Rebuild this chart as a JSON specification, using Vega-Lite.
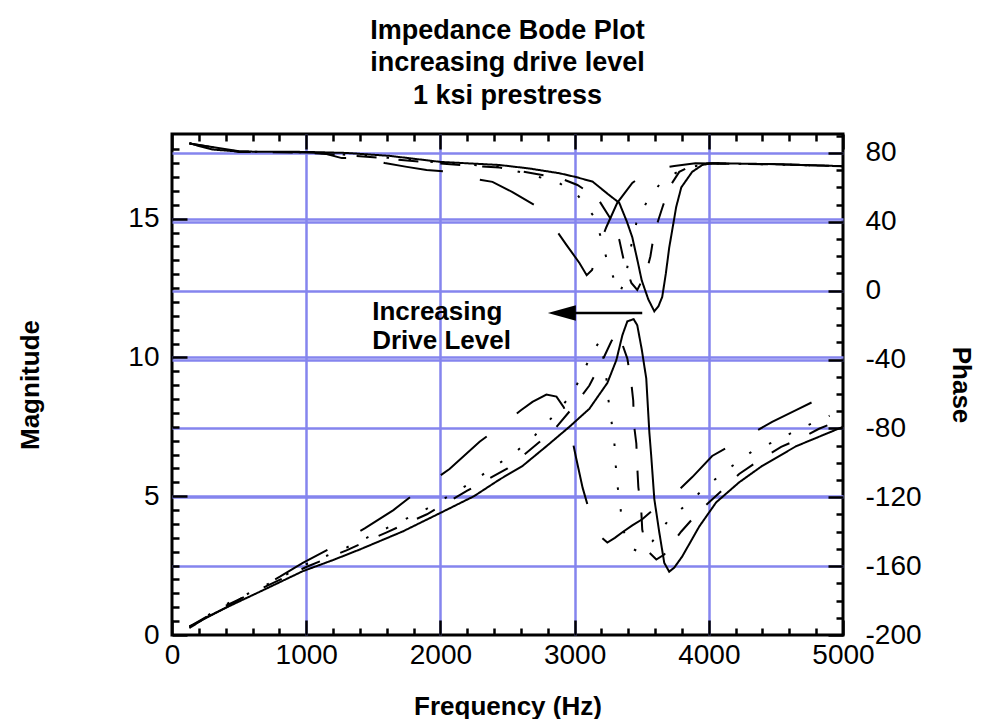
{
  "$schema": "https://vega.github.io/schema/vega-lite/v6.json",
  "width": 671,
  "height": 501,
  "autosize": {"type": "none"},
  "padding": {"left": 172, "top": 134, "right": 139, "bottom": 84},
  "background": "white",
  "title": {
    "text": ["Impedance Bode Plot", "increasing drive level", "1 ksi prestress"],
    "font": "Liberation Sans",
    "fontSize": 27,
    "fontWeight": "bold",
    "color": "black",
    "lineHeight": 32.5,
    "anchor": "middle",
    "offset": 23
  },
  "config": {
    "view": {"stroke": "black", "strokeWidth": 3},
    "font": "Liberation Sans",
    "axis": {
      "labelFont": "Liberation Sans",
      "labelFontSize": 28,
      "labelColor": "black",
      "labelFlush": false,
      "labelOverlap": false,
      "labelBound": false,
      "labelExpr": "'' + datum.value",
      "tickColor": "black",
      "tickWidth": 2.5,
      "domain": false,
      "titleFont": "Liberation Sans",
      "titleFontSize": 26,
      "titleFontWeight": "bold",
      "titleColor": "black",
      "gridColor": "#8585ee",
      "gridWidth": 2.5,
      "gridOpacity": 1
    }
  },
  "datasets": {
    "mag": [
      {"d": "1", "f": 130, "v": 0.25}, {"d": "1", "f": 250, "v": 0.62}, {"d": "1", "f": 409, "v": 1.0}, {"d": "1", "f": 655, "v": 1.56}, {"d": "1", "f": 975, "v": 2.3}, {"d": "1", "f": 1200, "v": 2.7}, {"d": "1", "f": 1399, "v": 3.08}, {"d": "1", "f": 1719, "v": 3.73}, {"d": "1", "f": 2009, "v": 4.42}, {"d": "1", "f": 2250, "v": 5.0}, {"d": "1", "f": 2440, "v": 5.6}, {"d": "1", "f": 2612, "v": 6.09}, {"d": "1", "f": 2790, "v": 6.8}, {"d": "1", "f": 2961, "v": 7.5}, {"d": "1", "f": 3110, "v": 8.15}, {"d": "1", "f": 3244, "v": 9.08}, {"d": "1", "f": 3311, "v": 9.9}, {"d": "1", "f": 3356, "v": 10.8}, {"d": "1", "f": 3393, "v": 11.3}, {"d": "1", "f": 3440, "v": 11.38}, {"d": "1", "f": 3467, "v": 11.16}, {"d": "1", "f": 3500, "v": 10.3}, {"d": "1", "f": 3534, "v": 9.24}, {"d": "1", "f": 3557, "v": 7.3}, {"d": "1", "f": 3571, "v": 6.45}, {"d": "1", "f": 3594, "v": 4.9}, {"d": "1", "f": 3631, "v": 3.7}, {"d": "1", "f": 3668, "v": 2.6}, {"d": "1", "f": 3705, "v": 2.28}, {"d": "1", "f": 3743, "v": 2.43}, {"d": "1", "f": 3802, "v": 2.83}, {"d": "1", "f": 3929, "v": 3.91}, {"d": "1", "f": 4055, "v": 4.78}, {"d": "1", "f": 4226, "v": 5.5}, {"d": "1", "f": 4397, "v": 6.09}, {"d": "1", "f": 4650, "v": 6.8}, {"d": "1", "f": 5000, "v": 7.5},
      {"d": "2", "f": 130, "v": 0.3}, {"d": "2", "f": 400, "v": 1.05}, {"d": "2", "f": 700, "v": 1.75}, {"d": "2", "f": 1000, "v": 2.45}, {"d": "2", "f": 1300, "v": 3.05}, {"d": "2", "f": 1600, "v": 3.7}, {"d": "2", "f": 1900, "v": 4.35}, {"d": "2", "f": 2200, "v": 5.2}, {"d": "2", "f": 2500, "v": 6.0}, {"d": "2", "f": 2740, "v": 6.96}, {"d": "2", "f": 2865, "v": 7.5}, {"d": "2", "f": 2998, "v": 8.26}, {"d": "2", "f": 3110, "v": 8.99}, {"d": "2", "f": 3207, "v": 9.89}, {"d": "2", "f": 3274, "v": 10.58}, {"d": "2", "f": 3311, "v": 10.87}, {"d": "2", "f": 3348, "v": 10.58}, {"d": "2", "f": 3393, "v": 9.96}, {"d": "2", "f": 3423, "v": 9.06}, {"d": "2", "f": 3437, "v": 8.44}, {"d": "2", "f": 3442, "v": 7.6}, {"d": "2", "f": 3460, "v": 6.9}, {"d": "2", "f": 3467, "v": 6.05}, {"d": "2", "f": 3475, "v": 5.33}, {"d": "2", "f": 3497, "v": 4.46}, {"d": "2", "f": 3504, "v": 3.8}, {"d": "2", "f": 3530, "v": 3.2}, {"d": "2", "f": 3557, "v": 2.97}, {"d": "2", "f": 3609, "v": 2.72}, {"d": "2", "f": 3668, "v": 2.9}, {"d": "2", "f": 3720, "v": 3.25}, {"d": "2", "f": 3795, "v": 3.73}, {"d": "2", "f": 3929, "v": 4.46}, {"d": "2", "f": 4092, "v": 5.18}, {"d": "2", "f": 4226, "v": 5.8}, {"d": "2", "f": 4390, "v": 6.34}, {"d": "2", "f": 4539, "v": 6.78}, {"d": "2", "f": 4710, "v": 7.14}, {"d": "2", "f": 4821, "v": 7.43}, {"d": "2", "f": 4933, "v": 7.65},
      {"d": "3", "f": 130, "v": 0.3}, {"d": "3", "f": 400, "v": 1.1}, {"d": "3", "f": 700, "v": 1.8}, {"d": "3", "f": 1000, "v": 2.55}, {"d": "3", "f": 1300, "v": 3.15}, {"d": "3", "f": 1600, "v": 3.85}, {"d": "3", "f": 1900, "v": 4.55}, {"d": "3", "f": 2200, "v": 5.4}, {"d": "3", "f": 2552, "v": 6.56}, {"d": "3", "f": 2700, "v": 7.17}, {"d": "3", "f": 2850, "v": 7.93}, {"d": "3", "f": 2984, "v": 8.7}, {"d": "3", "f": 3065, "v": 9.49}, {"d": "3", "f": 3140, "v": 10.25}, {"d": "3", "f": 3190, "v": 10.6}, {"d": "3", "f": 3230, "v": 9.6}, {"d": "3", "f": 3251, "v": 8.51}, {"d": "3", "f": 3274, "v": 7.72}, {"d": "3", "f": 3296, "v": 6.96}, {"d": "3", "f": 3305, "v": 6.2}, {"d": "3", "f": 3318, "v": 5.43}, {"d": "3", "f": 3341, "v": 4.64}, {"d": "3", "f": 3356, "v": 3.88}, {"d": "3", "f": 3390, "v": 3.4}, {"d": "3", "f": 3423, "v": 3.12}, {"d": "3", "f": 3480, "v": 3.0}, {"d": "3", "f": 3579, "v": 3.37}, {"d": "3", "f": 3705, "v": 4.17}, {"d": "3", "f": 3862, "v": 4.82}, {"d": "3", "f": 4018, "v": 5.5}, {"d": "3", "f": 4174, "v": 6.09}, {"d": "3", "f": 4338, "v": 6.67}, {"d": "3", "f": 4501, "v": 6.99}, {"d": "3", "f": 4658, "v": 7.39}, {"d": "3", "f": 4814, "v": 7.72}, {"d": "3", "f": 4900, "v": 7.9},
      {"d": "4", "f": 130, "v": 0.3}, {"d": "4", "f": 409, "v": 1.0}, {"d": "4", "f": 558, "v": 1.45}, {"d": "4", "f": 804, "v": 2.1}, {"d": "4", "f": 975, "v": 2.6}, {"d": "4", "f": 1190, "v": 3.15}, {"d": "4", "f": 1436, "v": 3.84}, {"d": "4", "f": 1650, "v": 4.5}, {"d": "4", "f": 1823, "v": 5.15}, {"d": "4", "f": 2068, "v": 5.98}, {"d": "4", "f": 2292, "v": 6.96}, {"d": "4", "f": 2463, "v": 7.57}, {"d": "4", "f": 2600, "v": 8.1}, {"d": "4", "f": 2686, "v": 8.4}, {"d": "4", "f": 2790, "v": 8.66}, {"d": "4", "f": 2865, "v": 8.59}, {"d": "4", "f": 2920, "v": 8.2}, {"d": "4", "f": 2961, "v": 7.54}, {"d": "4", "f": 3013, "v": 6.34}, {"d": "4", "f": 3060, "v": 5.3}, {"d": "4", "f": 3110, "v": 4.46}, {"d": "4", "f": 3180, "v": 3.6}, {"d": "4", "f": 3244, "v": 3.33}, {"d": "4", "f": 3300, "v": 3.5}, {"d": "4", "f": 3356, "v": 3.7}, {"d": "4", "f": 3430, "v": 3.95}, {"d": "4", "f": 3504, "v": 4.17}, {"d": "4", "f": 3631, "v": 4.7}, {"d": "4", "f": 3750, "v": 5.1}, {"d": "4", "f": 3877, "v": 5.69}, {"d": "4", "f": 4025, "v": 6.45}, {"d": "4", "f": 4226, "v": 7.0}, {"d": "4", "f": 4472, "v": 7.68}, {"d": "4", "f": 4650, "v": 8.1}, {"d": "4", "f": 4859, "v": 8.6}
    ],
    "phase": [
      {"d": "1", "f": 130, "v": 85.8}, {"d": "1", "f": 200, "v": 84}, {"d": "1", "f": 300, "v": 82}, {"d": "1", "f": 500, "v": 80.8}, {"d": "1", "f": 1000, "v": 80.6}, {"d": "1", "f": 1300, "v": 80}, {"d": "1", "f": 1620, "v": 78.3}, {"d": "1", "f": 2000, "v": 74.8}, {"d": "1", "f": 2440, "v": 73}, {"d": "1", "f": 2660, "v": 71}, {"d": "1", "f": 2887, "v": 68.2}, {"d": "1", "f": 3010, "v": 66}, {"d": "1", "f": 3135, "v": 63.3}, {"d": "1", "f": 3250, "v": 56}, {"d": "1", "f": 3333, "v": 51}, {"d": "1", "f": 3390, "v": 40}, {"d": "1", "f": 3430, "v": 31}, {"d": "1", "f": 3470, "v": 17}, {"d": "1", "f": 3500, "v": 6}, {"d": "1", "f": 3549, "v": -5}, {"d": "1", "f": 3594, "v": -12}, {"d": "1", "f": 3625, "v": -9}, {"d": "1", "f": 3653, "v": -3.6}, {"d": "1", "f": 3680, "v": 10}, {"d": "1", "f": 3705, "v": 25}, {"d": "1", "f": 3757, "v": 48.6}, {"d": "1", "f": 3795, "v": 60}, {"d": "1", "f": 3876, "v": 69}, {"d": "1", "f": 3951, "v": 73}, {"d": "1", "f": 4025, "v": 74}, {"d": "1", "f": 4500, "v": 73.5}, {"d": "1", "f": 5000, "v": 72.3},
      {"d": "2", "f": 130, "v": 85.5}, {"d": "2", "f": 500, "v": 80.6}, {"d": "2", "f": 1000, "v": 80.2}, {"d": "2", "f": 1500, "v": 77.5}, {"d": "2", "f": 2000, "v": 73.8}, {"d": "2", "f": 2440, "v": 71.5}, {"d": "2", "f": 2887, "v": 65.5}, {"d": "2", "f": 3021, "v": 61.4}, {"d": "2", "f": 3170, "v": 53.9}, {"d": "2", "f": 3274, "v": 41}, {"d": "2", "f": 3333, "v": 29.5}, {"d": "2", "f": 3371, "v": 16}, {"d": "2", "f": 3423, "v": 4.5}, {"d": "2", "f": 3467, "v": 0.4}, {"d": "2", "f": 3504, "v": 6.2}, {"d": "2", "f": 3534, "v": 10.3}, {"d": "2", "f": 3565, "v": 20}, {"d": "2", "f": 3590, "v": 32}, {"d": "2", "f": 3620, "v": 40}, {"d": "2", "f": 3653, "v": 48}, {"d": "2", "f": 3705, "v": 60}, {"d": "2", "f": 3780, "v": 69}, {"d": "2", "f": 3880, "v": 73}, {"d": "2", "f": 4000, "v": 74}, {"d": "2", "f": 4500, "v": 73.3}, {"d": "2", "f": 5000, "v": 72.3},
      {"d": "3", "f": 130, "v": 85.5}, {"d": "3", "f": 500, "v": 80.7}, {"d": "3", "f": 1000, "v": 80.4}, {"d": "3", "f": 1500, "v": 78}, {"d": "3", "f": 2000, "v": 74.3}, {"d": "3", "f": 2440, "v": 72}, {"d": "3", "f": 2872, "v": 63.2}, {"d": "3", "f": 3021, "v": 55.6}, {"d": "3", "f": 3147, "v": 42.8}, {"d": "3", "f": 3200, "v": 30}, {"d": "3", "f": 3237, "v": 19}, {"d": "3", "f": 3296, "v": 6.2}, {"d": "3", "f": 3340, "v": -1}, {"d": "3", "f": 3380, "v": 8}, {"d": "3", "f": 3423, "v": 26.6}, {"d": "3", "f": 3460, "v": 39.3}, {"d": "3", "f": 3534, "v": 51}, {"d": "3", "f": 3646, "v": 63.2}, {"d": "3", "f": 3802, "v": 70.7}, {"d": "3", "f": 4000, "v": 74}, {"d": "3", "f": 4500, "v": 73.3}, {"d": "3", "f": 5000, "v": 72.3},
      {"d": "4", "f": 130, "v": 85.5}, {"d": "4", "f": 500, "v": 81}, {"d": "4", "f": 1000, "v": 80.3}, {"d": "4", "f": 1124, "v": 80}, {"d": "4", "f": 1265, "v": 77}, {"d": "4", "f": 1436, "v": 77}, {"d": "4", "f": 1585, "v": 74.2}, {"d": "4", "f": 1750, "v": 71.9}, {"d": "4", "f": 1897, "v": 70.1}, {"d": "4", "f": 2068, "v": 69}, {"d": "4", "f": 2217, "v": 65.5}, {"d": "4", "f": 2388, "v": 63.2}, {"d": "4", "f": 2537, "v": 57.3}, {"d": "4", "f": 2700, "v": 49.8}, {"d": "4", "f": 2835, "v": 38.2}, {"d": "4", "f": 2939, "v": 26.6}, {"d": "4", "f": 3036, "v": 16.1}, {"d": "4", "f": 3090, "v": 9}, {"d": "4", "f": 3130, "v": 12}, {"d": "4", "f": 3185, "v": 26.6}, {"d": "4", "f": 3237, "v": 37}, {"d": "4", "f": 3318, "v": 51}, {"d": "4", "f": 3430, "v": 62.6}, {"d": "4", "f": 3520, "v": 67.5}, {"d": "4", "f": 3609, "v": 70.7}, {"d": "4", "f": 3743, "v": 72.4}, {"d": "4", "f": 3900, "v": 74}, {"d": "4", "f": 4500, "v": 73.5}, {"d": "4", "f": 5000, "v": 72.3}
    ]
  },
  "layer": [
    {
      "data": {"name": "mag"},
      "mark": {"type": "line", "color": "black", "strokeWidth": 2, "clip": true},
      "encoding": {
        "x": {"field": "f", "type": "quantitative", "scale": {"domain": [0, 5000], "nice": false, "zero": false},
          "axis": {"orient": "bottom", "values": [0, 1000, 2000, 3000, 4000, 5000], "tickSize": -15, "labelPadding": 21, "grid": false, "title": "Frequency (Hz)", "titlePadding": 24}},
        "y": {"field": "v", "type": "quantitative", "scale": {"domain": [0, 18.05], "nice": false, "zero": false},
          "axis": {"orient": "left", "values": [0, 5, 10, 15], "tickSize": -15, "labelPadding": 28, "grid": true,
            "gridOpacity": {"condition": {"test": "datum.value == 0", "value": 0}, "value": 1},
            "title": "Magnitude", "titlePadding": 84}},
        "strokeDash": {"field": "d", "type": "nominal", "legend": null,
          "scale": {"domain": ["1", "2", "3", "4"], "range": [[1, 0], [20, 22], [2.5, 19.5], [60, 38]]}}
      }
    },
    {
      "data": {"name": "phase"},
      "mark": {"type": "line", "color": "black", "strokeWidth": 2, "clip": true},
      "encoding": {
        "x": {"field": "f", "type": "quantitative", "scale": {"domain": [0, 5000], "nice": false, "zero": false},
          "axis": {"orient": "top", "values": [0, 1000, 2000, 3000, 4000, 5000], "tickSize": -15, "labels": false, "title": null, "grid": true,
            "gridOpacity": {"condition": {"test": "datum.value == 0 || datum.value == 5000", "value": 0}, "value": 1}}},
        "y": {"field": "v", "type": "quantitative", "scale": {"domain": [-200, 91], "nice": false, "zero": false},
          "axis": {"orient": "right", "values": [-200, -160, -120, -80, -40, 0, 40, 80], "tickSize": -15, "labelPadding": 37, "grid": true,
            "gridOpacity": {"condition": {"test": "datum.value == -200", "value": 0}, "value": 1},
            "title": "Phase", "titleAngle": 90, "titlePadding": 26}},
        "strokeDash": {"field": "d", "type": "nominal", "legend": null,
          "scale": {"domain": ["1", "2", "3", "4"], "range": [[1, 0], [20, 22], [2.5, 19.5], [60, 38]]}}
      }
    },
    {
      "data": {"name": "mag"},
      "mark": {"type": "point", "opacity": 0},
      "encoding": {
        "x": {"field": "f", "type": "quantitative", "scale": {"domain": [0, 5000], "nice": false, "zero": false},
          "axis": {"orient": "bottom", "values": [200, 400, 600, 800, 1200, 1400, 1600, 1800, 2200, 2400, 2600, 2800, 3200, 3400, 3600, 3800, 4200, 4400, 4600, 4800], "tickSize": -7, "labels": false, "grid": false, "title": null}},
        "y": {"field": "v", "type": "quantitative", "scale": {"domain": [0, 18.05], "nice": false, "zero": false},
          "axis": {"orient": "left", "values": [0.5, 1, 1.5, 2, 2.5, 3, 3.5, 4, 4.5, 5.5, 6, 6.5, 7, 7.5, 8, 8.5, 9, 9.5, 10.5, 11, 11.5, 12, 12.5, 13, 13.5, 14, 14.5, 15.5, 16, 16.5, 17, 17.5], "tickSize": -7, "labels": false, "grid": false, "title": null}}
      }
    },
    {
      "data": {"name": "phase"},
      "mark": {"type": "point", "opacity": 0},
      "encoding": {
        "x": {"field": "f", "type": "quantitative", "scale": {"domain": [0, 5000], "nice": false, "zero": false},
          "axis": {"orient": "top", "values": [200, 400, 600, 800, 1200, 1400, 1600, 1800, 2200, 2400, 2600, 2800, 3200, 3400, 3600, 3800, 4200, 4400, 4600, 4800], "tickSize": -7, "labels": false, "grid": false, "title": null}},
        "y": {"field": "v", "type": "quantitative", "scale": {"domain": [-200, 91], "nice": false, "zero": false},
          "axis": {"orient": "right", "values": [-190, -180, -170, -150, -140, -130, -110, -100, -90, -70, -60, -50, -30, -20, -10, 10, 20, 30, 50, 60, 70, 90], "tickSize": -7, "labels": false, "grid": false, "title": null}}
      }
    },
    {
      "data": {"values": [{"note": "Increasing Drive Level"}]},
      "mark": {"type": "text", "text": ["Increasing", "Drive Level"], "align": "left", "baseline": "middle", "font": "Liberation Sans", "fontSize": 26, "fontWeight": "bold", "lineHeight": 28.5, "color": "black"},
      "encoding": {
        "x": {"datum": 1492, "type": "quantitative", "scale": {"domain": [0, 5000], "nice": false, "zero": false}, "axis": null},
        "y": {"datum": 11.62, "type": "quantitative", "scale": {"domain": [0, 18.05], "nice": false, "zero": false}, "axis": null}
      }
    },
    {
      "data": {"values": [{"note": "arrow"}]},
      "mark": {"type": "rule", "color": "black", "strokeWidth": 2.5},
      "encoding": {
        "x": {"datum": 2960, "type": "quantitative", "scale": {"domain": [0, 5000], "nice": false, "zero": false}, "axis": null},
        "x2": {"datum": 3504},
        "y": {"datum": 11.6, "type": "quantitative", "scale": {"domain": [0, 18.05], "nice": false, "zero": false}, "axis": null}
      }
    },
    {
      "data": {"values": [{"note": "arrowhead"}]},
      "mark": {"type": "point", "shape": "M-1,0L1,-0.55L1,0.55Z", "size": 784, "filled": true, "color": "black", "opacity": 1, "strokeWidth": 0},
      "encoding": {
        "x": {"datum": 2905, "type": "quantitative", "scale": {"domain": [0, 5000], "nice": false, "zero": false}, "axis": null},
        "y": {"datum": 11.6, "type": "quantitative", "scale": {"domain": [0, 18.05], "nice": false, "zero": false}, "axis": null}
      }
    }
  ],
  "resolve": {"scale": {"y": "independent"}, "axis": {"x": "independent", "y": "independent"}}
}
